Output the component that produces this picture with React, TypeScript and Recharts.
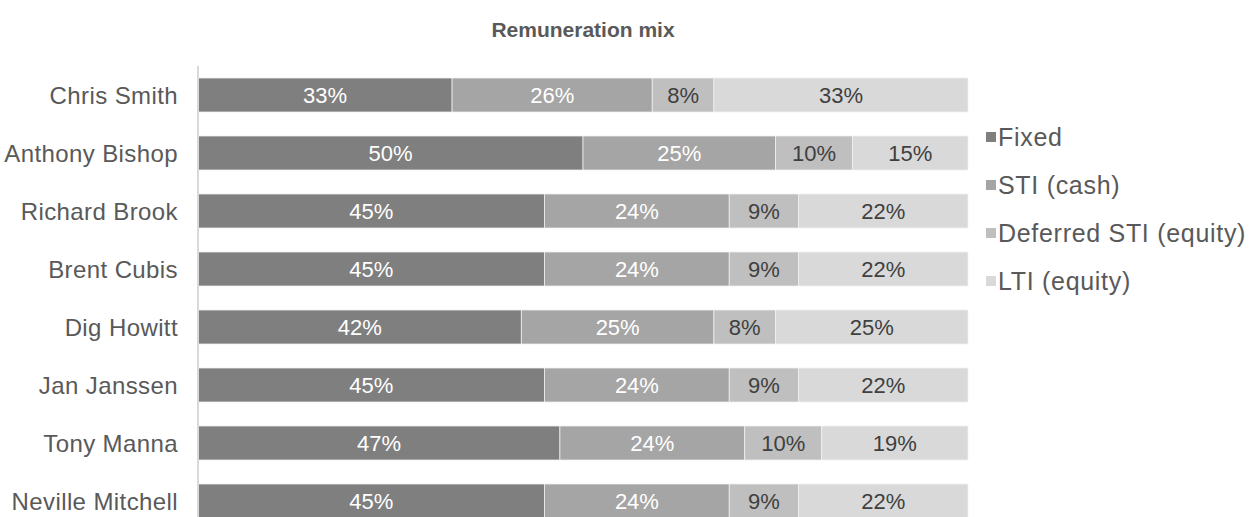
import React from 'react';
import { BarChart, Bar, XAxis, YAxis, LabelList } from 'recharts';

const executives = [
  'Chris Smith',
  'Anthony Bishop',
  'Richard Brook',
  'Brent Cubis',
  'Dig Howitt',
  'Jan Janssen',
  'Tony Manna',
  'Neville Mitchell',
];
const fixedPct = [33, 50, 45, 45, 42, 45, 47, 45];
const stiCashPct = [26, 25, 24, 24, 25, 24, 24, 24];
const deferredStiPct = [8, 10, 9, 9, 8, 9, 10, 9];
const ltiPct = [33, 15, 22, 22, 25, 22, 19, 22];

const data = executives.map((name, i) => ({
  name,
  fixed: fixedPct[i],
  stiCash: stiCashPct[i],
  deferredSti: deferredStiPct[i],
  lti: ltiPct[i],
}));

const FONT = '"Liberation Sans", Arial, sans-serif';
const TEXT = '#595959';

const series = [
  { key: 'fixed', name: 'Fixed', color: '#7f7f7f', label: '#ffffff' },
  { key: 'stiCash', name: 'STI (cash)', color: '#a5a5a5', label: '#ffffff' },
  { key: 'deferredSti', name: 'Deferred STI (equity)', color: '#bfbfbf', label: '#404040' },
  { key: 'lti', name: 'LTI (equity)', color: '#d9d9d9', label: '#404040' },
];

// legend drawn beside the plot, recharts' own Legend would eat plot width
function MixLegend() {
  return (
    <div style={{ position: 'absolute', left: 986, top: 113, fontFamily: FONT }}>
      {series.map((s) => (
        <div key={s.key} style={{ display: 'flex', alignItems: 'center', height: 48, whiteSpace: 'nowrap' }}>
          <span style={{ width: 10, height: 10, background: s.color, marginRight: 2, display: 'inline-block' }} />
          <span style={{ fontSize: 25, color: TEXT, letterSpacing: 0.7 }}>{s.name}</span>
        </div>
      ))}
    </div>
  );
}

export default function App() {
  return (
    <div style={{ position: 'absolute', left: 0, top: 0, width: 1255, height: 540, background: '#fff', fontFamily: FONT, overflow: 'hidden' }}>
      <div
        style={{
          position: 'absolute',
          top: 18,
          left: 0,
          width: 1166,
          textAlign: 'center',
          fontSize: 21,
          fontWeight: 'bold',
          color: TEXT,
        }}
      >
        Remuneration mix
      </div>
      <BarChart
        width={1255}
        height={540}
        data={data}
        layout="vertical"
        margin={{ top: 66, right: 287, bottom: 10, left: 0 }}
        barSize={34}
      >
        <XAxis type="number" domain={[0, 100]} hide />
        <YAxis
          type="category"
          dataKey="name"
          width={198}
          axisLine={{ stroke: '#d9d9d9', strokeWidth: 2 }}
          tickLine={false}
          tickMargin={14}
          tick={{ fontSize: 24, fill: TEXT, fontFamily: FONT, letterSpacing: 0.4 }}
        />
        {series.map((s) => (
          <Bar
            key={s.key}
            dataKey={s.key}
            name={s.name}
            stackId="mix"
            fill={s.color}
            stroke="#f2f2f2"
            strokeWidth={0.75}
            isAnimationActive={false}
          >
            <LabelList
              dataKey={s.key}
              position="center"
              formatter={(v: number) => `${v}%`}
              style={{ fontSize: 22, fill: s.label, fontFamily: FONT }}
            />
          </Bar>
        ))}
      </BarChart>
      <MixLegend />
    </div>
  );
}
